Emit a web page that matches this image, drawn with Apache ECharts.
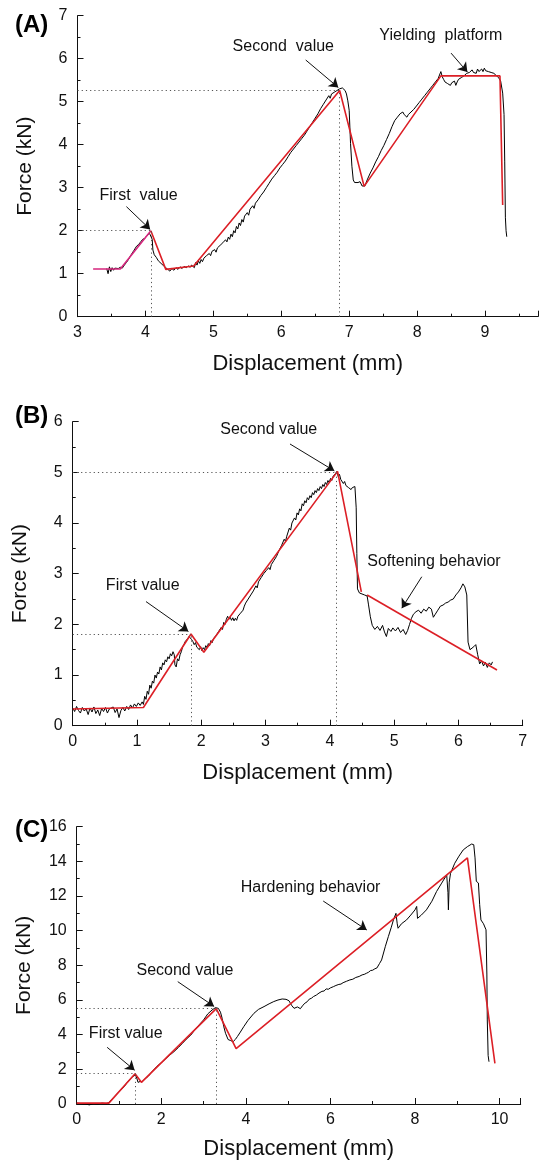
<!DOCTYPE html>
<html><head><meta charset="utf-8">
<script src="https://cdn.jsdelivr.net/npm/echarts@6/dist/echarts.min.js"></script>
<style>html,body{margin:0;padding:0;background:#fff}#c{width:541px;height:1163px}</style>
</head><body><div id="c"></div>
<script>
// ---------- DATA ----------
const xTitle = 'Displacement (mm)';
const yTitle = 'Force (kN)';
const panelLabels = ['(A)', '(B)', '(C)'];

const curveA = [[3.43,1.12],[3.45,1.0],[3.47,1.16],[3.49,1.05],[3.51,1.14],[3.53,1.08],[3.55,1.13],[3.57,1.1],[3.6,1.12],[3.63,1.15],[3.66,1.13],[3.69,1.2],[3.72,1.26],[3.75,1.33],[3.79,1.44],[3.83,1.54],[3.87,1.64],[3.9,1.68],[3.93,1.74],[3.96,1.8],[3.99,1.82],[4.02,1.88],[4.04,1.86],[4.06,1.94],[4.08,1.98],[4.1,1.8],[4.11,1.55],[4.13,1.44],[4.16,1.38],[4.19,1.3],[4.23,1.24],[4.27,1.18],[4.3,1.14],[4.33,1.1],[4.36,1.06],[4.39,1.12],[4.42,1.08],[4.45,1.14],[4.48,1.1],[4.51,1.16],[4.54,1.12],[4.57,1.17],[4.6,1.14],[4.63,1.18],[4.66,1.15],[4.68,1.2],
[4.70,1.22],[4.72,1.14],[4.74,1.26],[4.76,1.2],[4.78,1.3],[4.80,1.24],[4.82,1.33],[4.84,1.28],[4.86,1.36],[4.88,1.32],[4.90,1.42],[4.92,1.38],[4.94,1.47],[4.96,1.42],[4.98,1.52],[5.00,1.48],[5.02,1.56],[5.04,1.5],[5.06,1.6],[5.08,1.56],[5.10,1.66],[5.12,1.62],[5.14,1.72],[5.16,1.68],[5.18,1.79],[5.20,1.74],[5.22,1.85],[5.24,1.8],[5.26,1.92],[5.28,1.86],[5.30,2.0],[5.32,1.95],[5.34,2.1],[5.36,2.04],[5.38,2.18],[5.40,2.12],[5.42,2.26],[5.44,2.2],[5.46,2.34],[5.48,2.3],[5.50,2.42],[5.52,2.36],[5.54,2.5],[5.56,2.46],[5.58,2.58],[5.60,2.52],[5.62,2.64],[5.64,2.6],[5.66,2.72],[5.68,2.76],[5.70,2.82],[5.72,2.78],[5.74,2.9],[5.76,2.86],[5.78,3.0],[5.80,2.96],[5.82,3.1],[5.84,3.14],[5.86,3.2],[5.88,3.16],[5.90,3.28],[5.92,3.24],[5.94,3.36],[5.96,3.32],[5.98,3.46],[6.00,3.42],[6.02,3.54],[6.04,3.5],[6.06,3.62],[6.08,3.6],[6.10,3.72],[6.12,3.68],[6.14,3.82],[6.16,3.8],[6.18,3.9],[6.20,3.94],[6.22,3.98],[6.24,3.96],[6.26,4.06],[6.28,4.04],[6.30,4.14],[6.32,4.12],[6.34,4.22],[6.36,4.2],[6.38,4.32],[6.40,4.3],[6.42,4.42],[6.44,4.4],[6.46,4.52],[6.48,4.5],[6.50,4.62],[6.52,4.58],[6.54,4.72],[6.56,4.7],[6.58,4.84],[6.60,4.8],[6.62,4.94],[6.64,4.9],[6.66,5.04],[6.68,5.0],[6.70,5.14],[6.72,5.08],[6.74,5.18],[6.76,5.14],[6.78,5.22],[6.80,5.2],[6.82,5.26],[6.84,5.22],[6.86,5.3],[6.88,5.27],[6.90,5.32],[6.92,5.28],[6.94,5.26],[6.96,5.18],
[6.98,5.02],[7.0,4.8],[7.02,4.03],[7.04,3.5],[7.06,3.18],[7.08,3.12],[7.1,3.15],[7.13,3.12],[7.16,3.14],[7.19,3.04],[7.21,3.0],[7.23,3.04],
[7.25,3.08],[7.27,3.2],[7.29,3.16],[7.31,3.34],[7.33,3.3],[7.35,3.46],[7.37,3.42],[7.39,3.6],[7.41,3.56],[7.43,3.72],[7.45,3.68],[7.47,3.86],[7.49,3.82],[7.51,3.98],[7.53,3.94],[7.55,4.12],[7.57,4.08],[7.59,4.26],[7.61,4.22],[7.63,4.42],[7.65,4.38],[7.67,4.56],[7.69,4.52],[7.71,4.64],[7.73,4.6],[7.75,4.72],[7.77,4.68],[7.79,4.76],[7.81,4.7],[7.83,4.74],[7.85,4.64],[7.87,4.7],[7.89,4.66],[7.91,4.76],[7.93,4.72],[7.95,4.82],[7.97,4.8],[7.99,4.9],[8.01,4.88],[8.03,4.98],[8.05,4.96],[8.07,5.06],[8.09,5.02],[8.11,5.14],[8.13,5.1],[8.15,5.22],[8.17,5.18],[8.19,5.3],[8.21,5.28],[8.23,5.38],[8.25,5.36],[8.27,5.46],[8.29,5.44],[8.31,5.54],[8.33,5.52],[8.35,5.7],
[8.37,5.58],[8.39,5.52],[8.41,5.46],[8.43,5.5],[8.45,5.42],[8.47,5.46],[8.49,5.38],[8.51,5.44],[8.53,5.4],[8.55,5.48],[8.57,5.38],[8.59,5.46],[8.61,5.52],[8.63,5.5],[8.65,5.56],[8.67,5.52],[8.69,5.6],[8.71,5.58],[8.73,5.66],[8.75,5.62],[8.77,5.68],[8.79,5.64],[8.81,5.74],[8.83,5.68],[8.85,5.72],[8.87,5.66],[8.89,5.76],[8.91,5.7],[8.93,5.68],[8.95,5.76],[8.97,5.7],[8.99,5.78],[9.01,5.72],[9.03,5.76],[9.05,5.7],[9.07,5.74],[9.09,5.68],[9.11,5.7],[9.13,5.66],[9.15,5.64],[9.17,5.6],[9.2,5.56],[9.23,5.48],[9.26,5.2],[9.28,4.7],[9.29,3.6],[9.3,2.3],[9.31,2.0],[9.32,1.86]];
const fitA1 = [[3.23,1.11],[3.63,1.11],[4.08,2.0]];
const fitA2 = [[4.08,2.0],[4.3,1.1],[4.71,1.18],[6.86,5.26],[7.22,3.03],[8.35,5.6],[9.22,5.6],[9.26,2.6]];
const peaksA = [[4.08,2.0],[6.86,5.26]];

const curveB = [[0,0.35],[0.03,0.28],[0.06,0.38],[0.09,0.3],[0.12,0.25],[0.15,0.36],[0.18,0.29],[0.21,0.33],[0.24,0.22],[0.27,0.35],[0.3,0.27],[0.33,0.37],[0.36,0.24],[0.39,0.31],[0.42,0.2],[0.45,0.34],[0.48,0.28],[0.51,0.36],[0.54,0.25],[0.57,0.33],[0.6,0.3],[0.63,0.37],[0.66,0.26],[0.69,0.33],[0.72,0.16],[0.75,0.3],[0.78,0.36],[0.81,0.29],[0.84,0.38],[0.87,0.32],[0.9,0.41],[0.93,0.35],[0.96,0.43],[0.99,0.38],[1.02,0.45],[1.05,0.4],
[1.08,0.47],[1.10,0.42],[1.12,0.58],[1.14,0.52],[1.16,0.68],[1.18,0.62],[1.20,0.8],[1.22,0.74],[1.24,0.88],[1.26,0.84],[1.28,1.0],[1.30,0.94],[1.32,1.06],[1.34,1.02],[1.36,1.16],[1.38,1.1],[1.40,1.24],[1.42,1.2],[1.44,1.3],[1.46,1.26],[1.48,1.36],[1.50,1.32],[1.52,1.42],[1.54,1.38],[1.56,1.46],[1.58,1.4],[1.59,1.2],[1.61,1.16],[1.63,1.32],[1.65,1.28],[1.67,1.4],[1.69,1.46],[1.71,1.56],[1.73,1.6],[1.75,1.66],[1.77,1.64],[1.79,1.72],[1.81,1.76],[1.83,1.78],[1.85,1.7],[1.87,1.66],[1.89,1.6],[1.91,1.64],[1.93,1.55],[1.95,1.58],[1.97,1.5],[1.99,1.56],[2.01,1.48],[2.03,1.54],[2.05,1.5],[2.07,1.58],[2.09,1.54],[2.11,1.62],[2.13,1.58],[2.15,1.68],[2.17,1.64],[2.19,1.72],[2.21,1.7],[2.23,1.78],[2.25,1.76],[2.27,1.86],[2.29,1.84],[2.31,1.94],[2.33,1.9],[2.35,2.04],[2.37,2.0],[2.39,2.1],[2.41,2.16],[2.43,2.1],[2.45,2.14],[2.47,2.08],[2.49,2.13],[2.51,2.07],[2.53,2.12],[2.55,2.08],[2.57,2.16],[2.59,2.14],[2.61,2.22],[2.63,2.2],[2.65,2.28],[2.67,2.36],[2.69,2.42],[2.71,2.4],[2.73,2.5],[2.75,2.48],[2.77,2.58],[2.79,2.56],[2.81,2.66],[2.83,2.64],[2.85,2.76],[2.87,2.72],[2.89,2.84],[2.91,2.82],[2.93,2.92],[2.95,2.9],[2.97,3.0],[2.99,2.98],[3.01,3.06],[3.03,3.04],[3.05,3.12],[3.07,3.08],[3.09,3.18],[3.11,3.16],[3.13,3.26],[3.15,3.24],[3.17,3.34],[3.19,3.32],[3.21,3.46],[3.23,3.44],[3.25,3.56],[3.27,3.54],[3.29,3.68],[3.31,3.64],[3.33,3.74],[3.35,3.72],[3.37,3.9],[3.39,3.86],[3.41,4.0],[3.43,3.98],[3.45,4.1],[3.47,4.06],[3.49,4.2],[3.51,4.16],[3.53,4.28],[3.55,4.24],[3.57,4.38],[3.59,4.34],[3.61,4.44],[3.63,4.4],[3.65,4.5],[3.67,4.46],[3.69,4.54],[3.71,4.5],[3.73,4.6],[3.75,4.56],[3.77,4.64],[3.79,4.6],[3.81,4.68],[3.83,4.64],[3.85,4.72],[3.87,4.68],[3.89,4.76],[3.91,4.72],[3.93,4.8],[3.95,4.76],[3.97,4.84],[3.99,4.8],[4.01,4.88],[4.03,4.84],[4.05,4.92],[4.07,4.9],[4.09,4.98],[4.11,5.02],[4.13,4.92],[4.15,4.96],[4.17,4.86],[4.19,4.84],[4.21,4.78],[4.23,4.82],[4.25,4.74],[4.27,4.76],[4.29,4.7],[4.31,4.73],[4.33,4.66],[4.35,4.7],[4.37,4.67],[4.39,4.72],
[4.41,4.3],[4.42,3.4],[4.43,2.7],[4.46,2.62],[4.5,2.6],[4.54,2.58],[4.58,2.56],[4.6,2.4],[4.63,2.15],[4.66,1.98],[4.7,1.9],[4.74,1.96],[4.78,1.88],[4.82,1.98],[4.85,1.85],[4.88,1.76],[4.91,1.92],[4.95,1.86],[4.98,1.93],[5.02,1.87],[5.06,1.94],[5.1,1.84],[5.14,1.9],[5.18,1.8],[5.21,1.88],[5.24,2.0],[5.27,2.12],[5.3,2.2],[5.34,2.25],[5.38,2.28],[5.42,2.22],[5.46,2.3],[5.5,2.26],[5.54,2.34],[5.58,2.3],[5.61,2.14],[5.64,2.2],[5.68,2.28],[5.72,2.36],[5.76,2.38],[5.8,2.42],[5.84,2.44],[5.88,2.48],[5.92,2.5],[5.96,2.58],[6.0,2.64],[6.04,2.72],[6.07,2.8],[6.1,2.74],[6.13,2.58],[6.15,1.65],[6.18,1.5],[6.21,1.48],[6.24,1.56],[6.27,1.6],[6.3,1.4],[6.33,1.22],[6.36,1.28],[6.39,1.18],[6.42,1.25],[6.45,1.15],[6.48,1.24],[6.51,1.2],[6.53,1.26]];
const fitB1 = [[0,0.33],[1.1,0.36],[1.84,1.81],[2.04,1.45],[4.12,5.02],[4.49,2.64]];
const fitB2 = [[4.58,2.58],[6.6,1.1]];
const peaksB = [[1.84,1.81],[4.1,5.0]];

const curveC = [[0,0.05],[0.1,0.02],[0.2,0.0],[0.3,-0.05],[0.4,0.02],[0.5,0.0],[0.6,0.05],[0.7,0.02],[0.76,0.08],[0.82,0.25],[0.88,0.4],[0.94,0.55],[1.0,0.7],[1.06,0.85],[1.12,0.99],[1.18,1.2],[1.25,1.4],[1.32,1.58],[1.39,1.67],[1.42,1.5],[1.45,1.25],[1.5,1.3],[1.55,1.29],[1.6,1.42],[1.7,1.62],[1.8,1.92],[1.9,2.18],[2.0,2.38],[2.1,2.6],[2.2,2.82],[2.3,3.02],[2.4,3.25],[2.5,3.5],[2.6,3.76],[2.7,3.98],[2.8,4.3],[2.9,4.58],[3.0,4.85],[3.1,5.2],[3.2,5.42],[3.28,5.56],[3.35,5.52],[3.4,5.3],[3.44,4.94],[3.48,4.45],[3.52,4.08],[3.58,3.72],[3.64,3.66],[3.7,3.6],[3.75,3.72],[3.8,3.89],[3.87,4.15],[3.95,4.46],[4.05,4.82],[4.19,5.23],[4.3,5.46],[4.43,5.62],[4.55,5.78],[4.66,5.91],[4.76,6.0],[4.86,6.06],[4.95,6.04],[5.02,5.96],[5.08,5.7],[5.14,5.52],[5.22,5.6],[5.29,5.5],[5.35,5.7],[5.4,5.82],[5.45,5.9],[5.5,6.05],[5.55,6.1],[5.6,6.2],[5.67,6.29],[5.73,6.4],[5.8,6.5],[5.85,6.52],[5.9,6.64],[5.95,6.62],[6.0,6.7],[6.07,6.77],[6.13,6.84],[6.2,6.9],[6.25,6.92],[6.3,7.0],[6.38,7.08],[6.46,7.16],[6.53,7.2],[6.6,7.3],[6.68,7.36],[6.75,7.45],[6.8,7.48],[6.85,7.54],[6.9,7.6],[6.95,7.7],[7.0,7.72],[7.05,7.8],[7.1,7.85],[7.16,8.1],[7.21,8.31],[7.3,9.1],[7.37,9.66],[7.44,10.2],[7.49,10.62],[7.55,11.0],[7.58,10.4],[7.6,10.14],[7.68,10.4],[7.8,10.62],[7.9,10.9],[8.0,11.2],[8.04,11.4],[8.06,10.71],[8.15,10.9],[8.27,11.2],[8.4,11.7],[8.51,12.26],[8.62,12.7],[8.75,13.22],[8.78,12.2],[8.79,11.2],[8.81,12.8],[8.84,13.3],[8.94,13.89],[9.04,14.3],[9.14,14.66],[9.24,14.85],[9.34,15.0],[9.39,14.96],[9.42,14.2],[9.45,12.85],[9.5,12.75],[9.53,11.5],[9.56,10.62],[9.62,10.4],[9.68,10.05],[9.7,7.5],[9.71,4.85],[9.73,2.8],[9.75,2.44]];
const fitC = [[0,0.05],[0.76,0.05],[1.38,1.75],[1.53,1.25],[3.3,5.5],[3.77,3.2],[9.24,14.2],[9.89,2.35]];
const peaksC = [[1.38,1.78],[3.3,5.5]];

// annotations: [text, textX, textY, arrowFromX, arrowFromY, arrowToX, arrowToY]
const notesA = [['First  value',3.90,2.81,3.72,2.56,4.07,2.03],['Second  value',6.03,6.28,6.36,5.97,6.84,5.33],['Yielding  platform',8.35,6.53,8.50,6.13,8.74,5.69]];
const notesB = [['First value',1.09,2.76,1.14,2.45,1.80,1.86],['Second value',3.05,5.84,3.38,5.56,4.07,5.03],['Softening behavior',5.62,3.24,5.43,2.94,5.12,2.32]];
const notesC = [['First value',1.16,4.08,0.72,3.27,1.37,1.95],['Second value',2.56,7.69,2.39,7.06,3.25,5.63],['Hardening behavior',5.53,12.46,5.83,11.71,6.86,10.04]];

const xRanges = [[3,9.78,1],[0,7,1],[0,10.5,2]];
const yRanges = [[0,7,1],[0,6,1],[0,16,2]];

// ---------- STYLE / LAYOUT ----------
const FONT = '"Liberation Sans", Arial, sans-serif';
const RED = '#dc1f26', MAG = '#d6267e', INK = '#111';
const grids = [
  {left:77.5, top:15.7, width:463.5, height:301},
  {left:72.7, top:421.7, width:450, height:304},
  {left:76.7, top:826.7, width:444, height:277.3}
];
const labelTops = [8, 399, 813];
const xNameGap = [36, 36, 34];

function axisCommon(min,max,interval){
  return {
    type:'value', min, max, interval,
    axisLine:{show:true,onZero:false,lineStyle:{color:INK,width:1}},
    axisTick:{show:true,inside:true,length:6,lineStyle:{color:INK,width:1}},
    minorTick:{show:true,splitNumber:2,length:3,lineStyle:{color:INK,width:1}},
    splitLine:{show:false},
    axisLabel:{color:INK,fontSize:16,fontFamily:FONT,
      formatter:v=> (Math.abs(v/interval-Math.round(v/interval))<1e-6 ? String(Math.round(v*100)/100) : '')},
    nameTextStyle:{color:INK,fontFamily:FONT},
    nameLocation:'middle'
  };
}

const xAxes = xRanges.map((r,i)=>Object.assign(axisCommon(r[0],r[1],r[2]),{
  gridIndex:i, name:xTitle, nameGap:xNameGap[i],
  nameTextStyle:{color:INK,fontFamily:FONT,fontSize:22},
  axisLabel:Object.assign(axisCommon(r[0],r[1],r[2]).axisLabel,{margin:8})
}));
const yAxes = yRanges.map((r,i)=>Object.assign(axisCommon(r[0],r[1],r[2]),{
  gridIndex:i, name:yTitle, nameGap:42,
  nameTextStyle:{color:INK,fontFamily:FONT,fontSize:21},
  axisLabel:Object.assign(axisCommon(r[0],r[1],r[2]).axisLabel,{margin:10})
}));

function lineSeries(i,data,color,width,z){
  return {type:'line',xAxisIndex:i,yAxisIndex:i,data,showSymbol:false,symbol:'none',
    lineStyle:{color,width},z,silent:true,animation:false,clip:false};
}
function guideSeries(i,peaks,xmin){
  const d=[];
  peaks.forEach(p=>{
    d.push([{coord:[xmin,p[1]]},{coord:[p[0],p[1]]}]);
    d.push([{coord:[p[0],0]},{coord:[p[0],p[1]]}]);
  });
  return {type:'line',xAxisIndex:i,yAxisIndex:i,data:[],silent:true,
    markLine:{silent:true,symbol:['none','none'],animation:false,label:{show:false},
      lineStyle:{color:'#555',width:1,type:[1.2,3]},data:d}};
}
function noteSeries(i,notes){
  return {type:'line',xAxisIndex:i,yAxisIndex:i,data:[],silent:true,
    markLine:{silent:true,symbol:['none','arrow'],symbolSize:9,animation:false,label:{show:false},
      lineStyle:{color:INK,width:1,type:'solid'},itemStyle:{color:INK},
      data:notes.map(n=>[{coord:[n[3],n[4]]},{coord:[n[5],n[6]]}])},
    markPoint:{silent:true,animation:false,symbol:'circle',symbolSize:0,
      data:notes.map(n=>({coord:[n[1],n[2]],value:n[0],
        label:{show:true,position:'inside',formatter:n[0],color:INK,fontSize:16,fontFamily:FONT}}))}};
}

const series = [
  guideSeries(0,peaksA,3), guideSeries(1,peaksB,0), guideSeries(2,peaksC,0),
  lineSeries(0,curveA,'#000',1,2), lineSeries(0,fitA1,MAG,1.6,3), lineSeries(0,fitA2,RED,1.6,3),
  lineSeries(1,curveB,'#000',1,2), lineSeries(1,fitB1,RED,1.6,3), lineSeries(1,fitB2,RED,1.6,3),
  lineSeries(2,curveC,'#000',1,2), lineSeries(2,fitC,RED,1.6,3),
  noteSeries(0,notesA), noteSeries(1,notesB), noteSeries(2,notesC)
];

const chart = echarts.init(document.getElementById('c'),null,{renderer:'canvas'});
chart.setOption({
  animation:false,
  backgroundColor:'#fff',
  title: panelLabels.map((t,i)=>({text:t,left:10,top:labelTops[i],
    textStyle:{fontSize:24,fontWeight:'bold',color:'#000',fontFamily:FONT}})),
  grid:grids,
  xAxis:xAxes,
  yAxis:yAxes,
  series
});
</script></body></html>
